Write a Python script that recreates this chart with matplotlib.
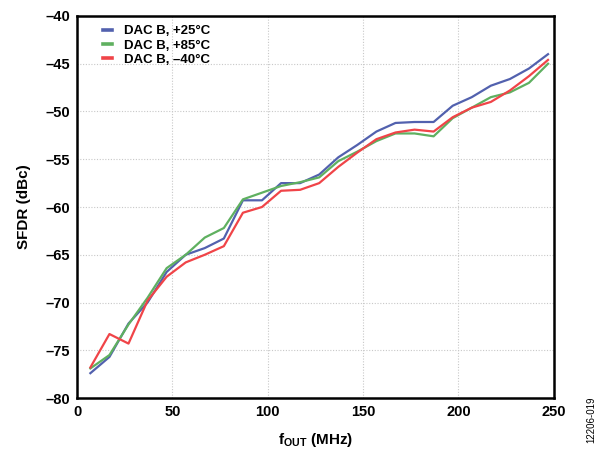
import matplotlib
matplotlib.use("Agg")
import matplotlib.pyplot as plt
from matplotlib.ticker import FuncFormatter

plt.rcParams['font.family'] = ['Liberation Sans', 'DejaVu Sans']
plt.rcParams['font.weight'] = 'bold'
plt.rcParams['mathtext.fontset'] = 'custom'
plt.rcParams['mathtext.rm'] = 'Liberation Sans:bold'
plt.rcParams['mathtext.bf'] = 'Liberation Sans:bold'
plt.rcParams['mathtext.it'] = 'Liberation Sans:bold'

freq = [7, 17, 27, 37, 47, 57, 67, 77, 87, 97, 107, 117, 127, 137, 147,
        157, 167, 177, 187, 197, 207, 217, 227, 237, 247]
sfdr_25 = [-77.4, -75.7, -72.2, -70.0, -66.8, -65.0, -64.3, -63.3, -59.3, -59.3,
           -57.5, -57.5, -56.6, -54.8, -53.5, -52.1, -51.2, -51.1, -51.1, -49.4,
           -48.5, -47.3, -46.6, -45.5, -44.0]
sfdr_85 = [-76.9, -75.5, -72.3, -69.5, -66.4, -65.0, -63.2, -62.2, -59.2, -58.5,
           -57.8, -57.4, -56.9, -55.2, -54.2, -53.1, -52.3, -52.3, -52.6, -50.7,
           -49.6, -48.5, -48.0, -47.0, -45.0]
sfdr_m40 = [-76.8, -73.3, -74.3, -69.8, -67.3, -65.8, -65.0, -64.1, -60.6, -60.0,
            -58.3, -58.2, -57.5, -55.8, -54.3, -52.9, -52.2, -51.9, -52.1, -50.6,
            -49.6, -49.0, -47.8, -46.3, -44.6]
labels = ['DAC B, +25°C', 'DAC B, +85°C', 'DAC B, –40°C']
colors = ['#5261ae', '#5fb060', '#f04448']

fig = plt.figure(figsize=(5.98, 4.54), dpi=100)
ax = fig.add_axes([0.1288, 0.1233, 0.7972, 0.8415])

for y, lab, c in zip([sfdr_25, sfdr_85, sfdr_m40], labels, colors):
    ax.plot(freq, y, color=c, lw=1.6, label=lab)

ax.set_xlim(0, 250)
ax.set_ylim(-80, -40)
ax.set_xticks(range(0, 251, 50))
ax.set_yticks(range(-80, -39, 5))
fmt = FuncFormatter(lambda v, p: f"{int(v)}".replace('-', '–'))
ax.xaxis.set_major_formatter(fmt)
ax.yaxis.set_major_formatter(fmt)
ax.tick_params(length=0, labelsize=10.5, pad=5)
for lab in ax.get_xticklabels() + ax.get_yticklabels():
    lab.set_fontweight('bold')
ax.grid(True, color='#c8c8c8', linestyle=(0, (1, 1.5)), lw=0.8)
for s in ax.spines.values():
    s.set_linewidth(1.8)
    s.set_color('black')

ax.set_xlabel(r'f$_{\mathrm{OUT}}$ (MHz)', fontsize=11, fontweight='bold', labelpad=9)
ax.set_ylabel('SFDR (dBc)', fontsize=11, fontweight='bold', labelpad=10)

leg = ax.legend(loc='upper left', frameon=False, fontsize=9.5, handlelength=0.7,
                borderaxespad=0.3, labelspacing=0.15, handletextpad=0.9,
                bbox_to_anchor=(0.035, 1.0))
for t in leg.get_texts():
    t.set_fontweight('bold')
for h in leg.get_lines():
    h.set_linewidth(2.6)

fig.text(0.988, 0.075, '12206-019', rotation=90, fontsize=7, fontweight='normal',
         ha='center', va='center')

fig.savefig('out.png', dpi=100)
